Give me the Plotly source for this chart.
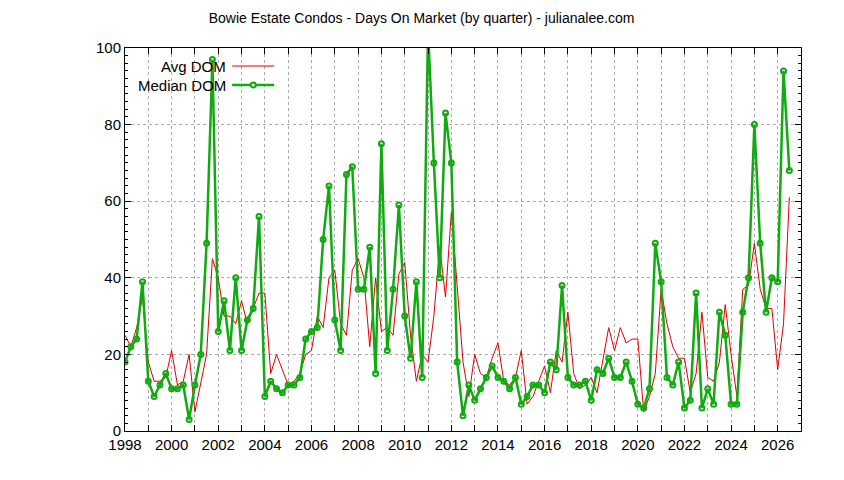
import plotly.graph_objects as go

median_dom = [18,22,24,39, 13,9,12,15, 11,11,12,3, 12,20,49,97, 26,34,21,40, 21,29,32,56,
              9,13,11,10, 12,12,14,24, 26,27,50,64, 29,21,67,69, 37,37,48,15, 75,21,37,59,
              30,19,39,14, 105,70,40,83, 70,18,4,12, 8,11,14,17, 14,13,11,14, 7,9,12,12,
              10,18,16,38, 14,12,12,13, 8,16,15,19, 14,14,18,13, 7,6,11,49, 39,14,12,18,
              6,8,36,6, 11,7,31,25, 7,7,31,40, 80,49,31,40, 39,94,68]
avg_dom = [25,22,27,35, 18,13,13,14, 21,12,13,20, 5,13,20,45, 40,30,30,28, 34,28,32,36,
           36,15,20,16, 12,13,15,20, 21,30,27,40, 42,28,25,42, 45,40,22,40, 26,27,25,41,
           44,25,13,20, 18,30,48,35, 57,38,18,9, 20,15,14,19, 23,13,12,14, 21,7,9,13,
           17,10,21,18, 31,15,11,12, 14,10,19,27, 21,27,23,24, 24,5,9,15, 37,28,22,19,
           19,10,15,31, 14,13,18,33, 20,9,37,38, 49,37,32,32, 16,28,61]
quarters = [1998 + i * 0.25 for i in range(len(median_dom))]

FONT = "Liberation Sans, Arial, sans-serif"
fig = go.Figure()
fig.add_trace(go.Scatter(x=quarters, y=avg_dom, mode="lines",
                         line=dict(color="#dd0000", width=1), name="Avg DOM"))
fig.add_trace(go.Scatter(x=quarters, y=median_dom, mode="lines+markers",
                         line=dict(color="#11aa11", width=2.5),
                         marker=dict(symbol="circle-open", size=5, color="#11aa11",
                                     line=dict(width=2)), name="Median DOM"))

tickvals = list(range(1998, 2028))
ticktext = [str(y) if y % 2 == 0 else "" for y in tickvals]
fig.update_layout(
    width=844, height=480, showlegend=False,
    paper_bgcolor="white", plot_bgcolor="white",
    margin=dict(l=117, r=51, t=40, b=57),
    font=dict(family=FONT, size=15, color="black"),
    title=dict(text="Bowie Estate Condos - Days On Market (by quarter) - julianalee.com",
               x=0.49, xanchor="center", y=0.979, yanchor="middle",
               font=dict(size=14)),
    xaxis=dict(range=[1998, 2027], tickvals=tickvals, ticktext=ticktext, automargin=False,
               ticks="inside", ticklen=6, tickcolor="black", mirror="ticks",
               showline=True, linecolor="black", linewidth=1,
               showgrid=True, gridcolor="#aaaaaa", griddash="dot", gridwidth=1,
               zeroline=False),
    yaxis=dict(range=[0, 100], tickvals=[0, 20, 40, 60, 80, 100], automargin=False,
               ticks="inside", ticklen=6, tickcolor="black", mirror="ticks",
               showline=True, linecolor="black", linewidth=1,
               showgrid=True, gridcolor="#aaaaaa", griddash="dot", gridwidth=1,
               zeroline=False,
               minor=dict(dtick=2, ticks="inside", ticklen=3, tickcolor="black", showgrid=False)),
)
fig.add_annotation(text="Avg DOM", xref="paper", yref="paper", x=(228-125)/675, y=(431-66)/383,
                   xanchor="right", yanchor="middle", showarrow=False, font=dict(size=15))
fig.add_annotation(text="Median DOM", xref="paper", yref="paper", x=(228-125)/675, y=(431-85)/383,
                   xanchor="right", yanchor="middle", showarrow=False, font=dict(size=15))
fig.add_shape(type="line", xref="paper", yref="paper", x0=(232-125)/675, x1=(274-125)/675,
              y0=(431-66)/383, y1=(431-66)/383, line=dict(color="#dd0000", width=1))
fig.add_shape(type="line", xref="paper", yref="paper", x0=(232-125)/675, x1=(274-125)/675,
              y0=(431-85)/383, y1=(431-85)/383, line=dict(color="#11aa11", width=2.5))
fig.add_shape(type="circle", xref="paper", yref="paper", x0=(250.5-125)/675, x1=(255.5-125)/675,
              y0=(431-87.5)/383, y1=(431-82.5)/383, line=dict(color="#11aa11", width=2), fillcolor="white")
fig.write_html("out.html")
